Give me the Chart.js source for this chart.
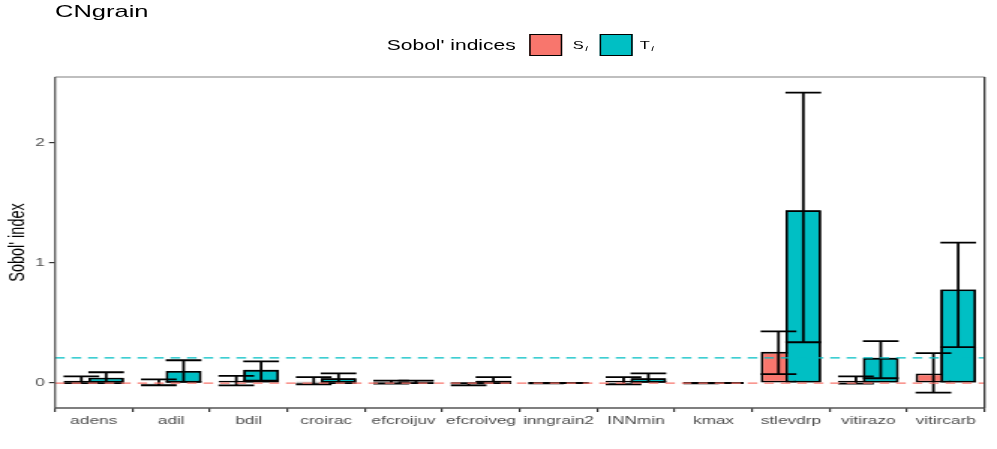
<!DOCTYPE html>
<html>
<head>
<meta charset="utf-8">
<script src="https://cdn.jsdelivr.net/npm/chart.js@4/dist/chart.umd.min.js"></script>
<style>
  body { margin: 0; background: #fff; overflow: hidden; }
  /* the reference is stretched horizontally; draw at 665px wide and scale */
  #wrap { position: relative; width: 665px; height: 449px; transform: scaleX(1.4992); transform-origin: 0 0;
          font-family: "Liberation Sans", Arial, sans-serif; color: #000; }
  #wrap canvas { position: absolute; left: 0; top: 0; }
  .txt { position: absolute; white-space: nowrap; line-height: 1; }
  #title { left: 36.7px; top: 3px; font-size: 17px; }
  #ltitle { left: 258px; top: 38px; font-size: 14px; }
  .key { position: absolute; top: 34px; width: 22.5px; height: 22px; box-sizing: border-box; border: 1.5px solid #000; }
  .lab { top: 40px; font-size: 11px; }
  .lab i { font-size: 7.5px; position: relative; top: 2px; margin-left: 1px; }
</style>
</head>
<body>
<div id="wrap">
  <canvas id="c" width="665" height="449"></canvas>
  <div id="title" class="txt">CNgrain</div>
  <div id="ltitle" class="txt">Sobol' indices</div>
  <span class="key" style="left:352.7px;background:#F8766D"></span>
  <span class="txt lab" style="left:382px">S<i>i</i></span>
  <span class="key" style="left:399.5px;background:#00BFC4"></span>
  <span class="txt lab" style="left:426.7px">T<i>i</i></span>
</div>
<script>
const COLORS = { s: "#F8766D", t: "#00BFC4" }

const categories = ["adens", "adil", "bdil", "croirac", "efcroijuv", "efcroiveg", "inngrain2", "INNmin", "kmax", "stlevdrp", "vitirazo", "vitircarb"]

const siValues = [0.02, -0.015, 0.02, 0.01, 0.01, -0.012, 0.0, 0.02, 0.0, 0.26, 0.02, 0.08]
const siLow = [0.0, -0.02, -0.02, -0.01, -0.004, -0.02, -0.002, -0.01, -0.002, 0.075, -0.005, -0.08]
const siHigh = [0.055, 0.03, 0.06, 0.05, 0.02, 0.0, 0.002, 0.05, 0.002, 0.43, 0.055, 0.25]

const tiValues = [0.045, 0.10, 0.11, 0.04, 0.01, 0.02, 0.0, 0.04, 0.0, 1.44, 0.21, 0.78]
const tiLow = [0.0, 0.01, 0.02, 0.0, 0.0, 0.0, 0.0, 0.01, 0.0, 0.34, 0.04, 0.30]
const tiHigh = [0.09, 0.19, 0.18, 0.08, 0.02, 0.05, 0.002, 0.08, 0.002, 2.42, 0.35, 1.17]

const yTicks = [0, 1, 2]
const refLines = [
  { value: 0, color: COLORS.s },
  { value: 0.21, color: COLORS.t },
]

const errorBars = [
  { low: siLow, high: siHigh },
  { low: tiLow, high: tiHigh },
]

const errorBarPlugin = {
  id: "errorBars",
  afterDatasetsDraw(chart) {
    const { ctx, scales } = chart
    const y = scales.y
    ctx.save()
    // T bars sit in front of the S bars
    chart.getDatasetMeta(1).data.forEach((bar) => bar.draw(ctx))

    ctx.strokeStyle = "#000"
    ctx.lineWidth = 1.8
    chart.data.datasets.forEach((ds, di) => {
      const meta = chart.getDatasetMeta(di)
      meta.data.forEach((bar, i) => {
        const yl = y.getPixelForValue(errorBars[di].low[i])
        const yh = y.getPixelForValue(errorBars[di].high[i])
        const half = bar.width / 2
        ctx.beginPath()
        ctx.moveTo(bar.x, yl)
        ctx.lineTo(bar.x, yh)
        ctx.moveTo(bar.x - half, yl)
        ctx.lineTo(bar.x + half, yl)
        ctx.moveTo(bar.x - half, yh)
        ctx.lineTo(bar.x + half, yh)
        ctx.stroke()
      })
    })

    // dashed reference lines
    const area = chart.chartArea
    ctx.lineWidth = 1.2
    ctx.setLineDash([6.5, 4.5])
    refLines.forEach((line) => {
      const py = y.getPixelForValue(line.value)
      ctx.strokeStyle = line.color
      ctx.beginPath()
      ctx.moveTo(area.left, py)
      ctx.lineTo(area.right, py)
      ctx.stroke()
    })
    ctx.restore()
  },
}

const panelBorderPlugin = {
  id: "panelBorder",
  afterDraw(chart) {
    const { ctx, chartArea: a } = chart
    ctx.save()
    ctx.lineWidth = 1.3
    ctx.strokeStyle = "#aaaaaa"
    ctx.beginPath()
    ctx.moveTo(a.left, a.top)
    ctx.lineTo(a.right, a.top)
    ctx.stroke()
    ctx.strokeStyle = "#555555"
    ctx.beginPath()
    ctx.moveTo(a.left, a.top)
    ctx.lineTo(a.left, a.bottom)
    ctx.lineTo(a.right, a.bottom)
    ctx.stroke()
    ctx.strokeStyle = "#333333"
    ctx.beginPath()
    ctx.moveTo(a.right, a.top)
    ctx.lineTo(a.right, a.bottom)
    ctx.stroke()
    ctx.restore()
  },
}

new Chart(document.getElementById("c"), {
  type: "bar",
  data: {
    labels: categories,
    datasets: [
      {
        label: "Si",
        data: siValues,
        backgroundColor: COLORS.s,
        borderColor: "#000",
        borderWidth: 1.8,
        borderSkipped: false,
      },
      {
        label: "Ti",
        data: tiValues,
        backgroundColor: COLORS.t,
        borderColor: "#000",
        borderWidth: 1.8,
        borderSkipped: false,
      },
    ],
  },
  options: {
    responsive: false,
    animation: false,
    categoryPercentage: 0.64,
    barPercentage: 1.44,
    layout: { padding: { left: 0, top: 77, right: 8.3, bottom: 0 } },
    plugins: {
      legend: { display: false },
      tooltip: { enabled: false },
    },
    scales: {
      x: {
        afterFit(scale) { scale.height = 41 },
        grid: { display: true, drawOnChartArea: false, drawTicks: true, tickLength: 4, color: "#333", lineWidth: 1.2 },
        border: { display: false },
        ticks: {
          color: "#4D4D4D",
          font: { family: "Liberation Sans", size: 11.5 },
          padding: 2,
          maxRotation: 0,
          autoSkip: false,
        },
      },
      y: {
        min: -0.208,
        max: 2.55,
        afterFit(scale) { scale.width = 36.7 },
        afterBuildTicks(scale) { scale.ticks = yTicks.map((v) => ({ value: v })) },
        grid: { display: true, drawOnChartArea: false, drawTicks: true, tickLength: 4, color: "#333", lineWidth: 1.2 },
        border: { display: false },
        ticks: {
          color: "#4D4D4D",
          font: { family: "Liberation Sans", size: 11.5 },
          padding: 2.7,
        },
        title: {
          display: true,
          text: "Sobol' index",
          color: "#000",
          font: { family: "Liberation Sans", size: 14.5 },
          padding: { top: 3, bottom: 0 },
        },
      },
    },
  },
  plugins: [errorBarPlugin, panelBorderPlugin],
})
</script>
</body>
</html>
